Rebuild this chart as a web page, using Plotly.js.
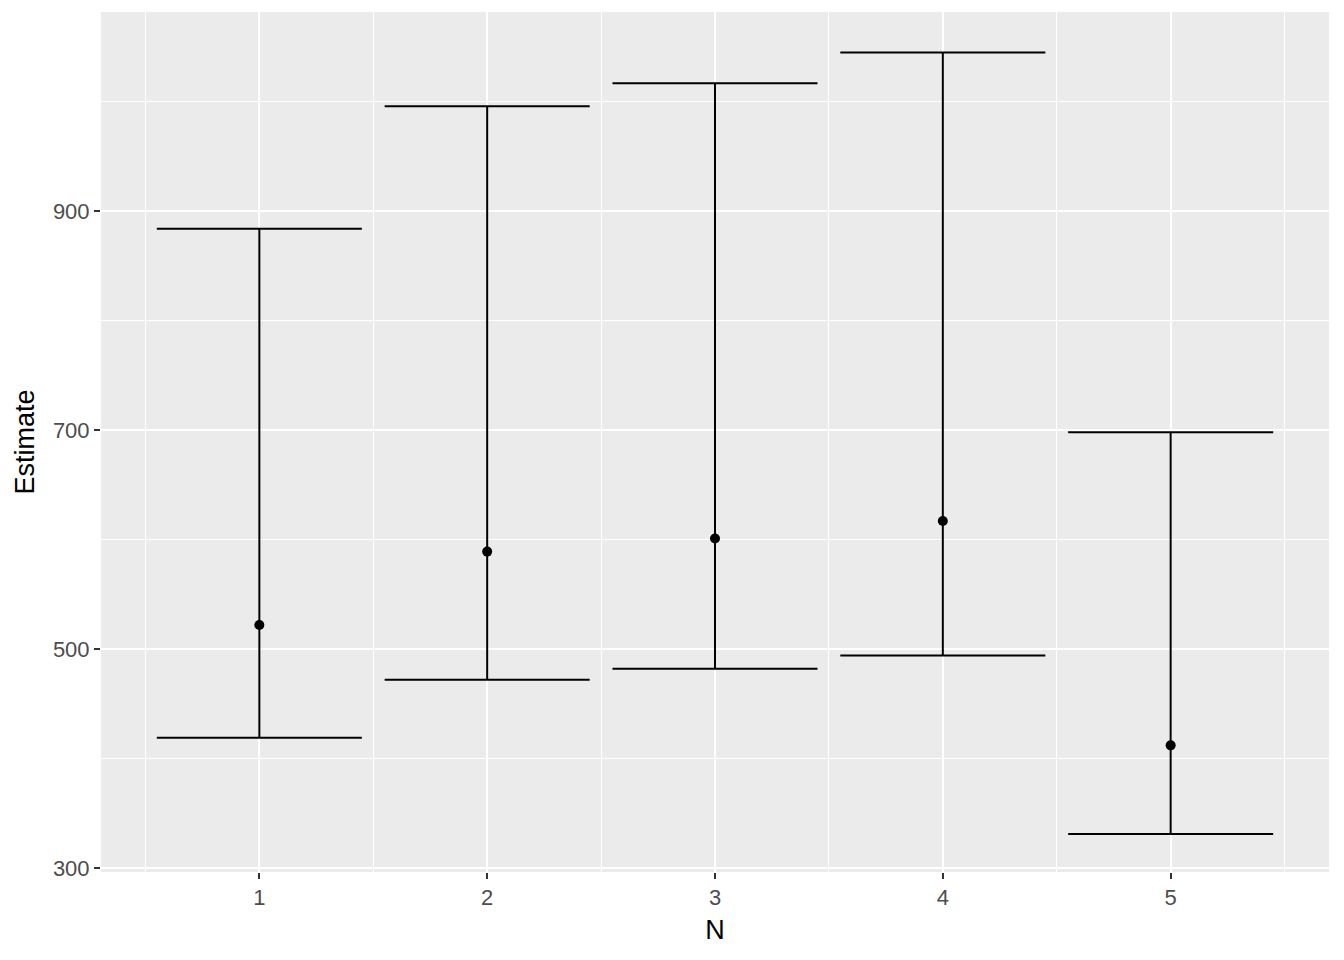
<!DOCTYPE html>
<html>
<head>
<meta charset="utf-8">
<script src="https://cdn.plot.ly/plotly-3.0.1.min.js"></script>
<style>html,body{margin:0;padding:0;background:#fff;}#chart{width:1344px;height:960px;}</style>
</head>
<body>
<div id="chart"></div>
<script>
const N = [1, 2, 3, 4, 5];
const estimate = [522, 589, 601, 617, 412];
const lower = [419, 472, 482, 494, 331];
const upper = [884, 996, 1017, 1045, 698];
const tickVals = [1, 2, 3, 4, 5];
const halfWidth = 0.45;

const traces = [];
const ex = [], ey = [];
N.forEach((n, i) => {
  ex.push(n, n, null);
  ey.push(lower[i], upper[i], null);
  ex.push(n - halfWidth, n + halfWidth, null);
  ey.push(upper[i], upper[i], null);
  ex.push(n - halfWidth, n + halfWidth, null);
  ey.push(lower[i], lower[i], null);
});
traces.push({
  x: ex, y: ey, type: 'scatter', mode: 'lines',
  line: {color: '#000000', width: 2}, hoverinfo: 'skip', showlegend: false
});
traces.push({
  x: N, y: estimate, type: 'scatter', mode: 'markers',
  marker: {color: '#000000', size: 10}, showlegend: false
});

const layout = {
  width: 1344, height: 960,
  margin: {l: 101, r: 15, t: 12, b: 88},
  paper_bgcolor: '#ffffff',
  plot_bgcolor: '#EBEBEB',
  font: {family: 'Liberation Sans, Arial, sans-serif'},
  xaxis: {
    range: [0.305, 5.695],
    tickmode: 'array', tickvals: tickVals, ticktext: tickVals.map(String),
    showgrid: true, gridcolor: '#ffffff', gridwidth: 2,
    minor: {tickmode: 'array', tickvals: [0.5, 1.5, 2.5, 3.5, 4.5, 5.5], showgrid: true, gridcolor: '#ffffff', gridwidth: 1, ticks: ''},
    zeroline: false, showline: false,
    ticks: 'outside', ticklen: 6, tickwidth: 2, tickcolor: '#333333',
    tickfont: {size: 22, color: '#4D4D4D'},
    title: {text: 'N', font: {size: 27, color: '#000000'}, standoff: 10}
  },
  yaxis: {
    range: [296.3, 1082],
    tickmode: 'array', tickvals: [300, 500, 700, 900], ticktext: ['300', '500', '700', '900'],
    showgrid: true, gridcolor: '#ffffff', gridwidth: 2,
    minor: {tickmode: 'array', tickvals: [400, 600, 800, 1000], showgrid: true, gridcolor: '#ffffff', gridwidth: 1, ticks: ''},
    zeroline: false, showline: false,
    ticks: 'outside', ticklen: 6, tickwidth: 2, tickcolor: '#333333',
    tickfont: {size: 22, color: '#4D4D4D'},
    title: {text: 'Estimate', font: {size: 27, color: '#000000'}, standoff: 10}
  },
  showlegend: false
};

Plotly.newPlot('chart', traces, layout, {displayModeBar: false, staticPlot: true});
</script>
</body>
</html>
